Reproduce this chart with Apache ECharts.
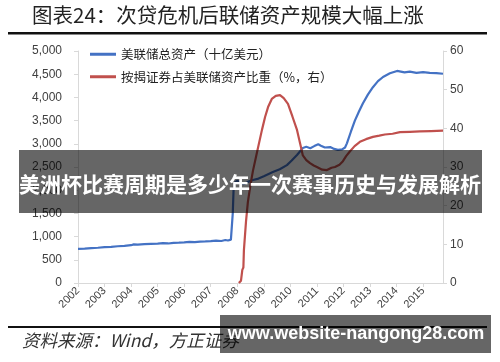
<!DOCTYPE html>
<html><head><meta charset="utf-8">
<script src="https://cdn.jsdelivr.net/npm/echarts@6/dist/echarts.min.js"></script>
<style>html,body{margin:0;padding:0;background:#fff}#c{width:500px;height:362px}</style>
</head><body><div id="c"></div>
<script>
const titleText = '图表24：次贷危机后联储资产规模大幅上涨';
const sourceText = '资料来源：Wind，方正证券';
const bannerText = '美洲杯比赛周期是多少年一次赛事历史与发展解析';
const watermarkText = 'www.website-nangong28.com';
const seriesNames = ['美联储总资产（十亿美元）', '按揭证券占美联储资产比重（%，右）'];
const yearLabels = ['2002','2003','2004','2005','2006','2007','2008','2009','2010','2011','2012','2013','2014','2015'];
const leftTicks = [0,500,1000,1500,2000,2500,3000,3500,4000,4500,5000];
const rightTicks = [0,10,20,30,40,50,60];
// [year position, value]
const fedAssets = [
 [2002.00,735],[2002.25,742],[2002.5,752],[2002.75,760],[2003.0,772],[2003.25,780],[2003.5,792],[2003.75,800],
 [2004.0,815],[2004.1,832],[2004.25,825],[2004.5,836],[2004.75,845],[2005.0,850],[2005.2,860],[2005.4,852],
 [2005.6,866],[2005.8,870],[2006.0,876],[2006.2,886],[2006.4,880],[2006.6,891],[2006.8,895],[2007.0,902],
 [2007.2,912],[2007.4,905],[2007.55,926],[2007.65,915],[2007.76,935],[2007.8,960],[2007.83,1500],[2007.86,2000],
 [2007.9,2160],[2008.0,2210],[2008.1,2160],[2008.25,2130],[2008.4,2180],[2008.59,2220],[2008.8,2250],[2009.0,2300],
 [2009.34,2390],[2009.6,2450],[2009.87,2540],[2010.05,2640],[2010.25,2760],[2010.47,2910],[2010.6,2935],[2010.75,2905],
 [2010.9,2950],[2011.05,2990],[2011.15,2960],[2011.3,2920],[2011.5,2930],[2011.65,2890],[2011.79,2870],[2011.95,2880],
 [2012.06,2920],[2012.13,3010],[2012.28,3260],[2012.43,3500],[2012.58,3690],[2012.73,3870],[2012.92,4060],[2013.11,4220],
 [2013.3,4350],[2013.49,4440],[2013.75,4520],[2014.02,4570],[2014.3,4540],[2014.5,4555],[2014.75,4530],[2015.0,4545],
 [2015.25,4530],[2015.5,4525],[2015.75,4510]
];
const mbsShare = [
 [2008.06,0],[2008.14,0.6],[2008.19,3.4],[2008.23,4],[2008.25,8.5],[2008.29,9],[2008.33,16],[2008.4,21],
 [2008.5,25.5],[2008.59,29],[2008.75,34],[2008.93,39.6],[2009.05,43],[2009.16,45.5],[2009.3,47.6],[2009.45,48.4],
 [2009.61,48.6],[2009.75,47.8],[2009.91,46.3],[2010.08,43],[2010.25,39.6],[2010.37,36],[2010.47,33],[2010.6,31.8],
 [2010.74,31],[2010.88,30.4],[2011.0,30],[2011.2,29.3],[2011.38,29.2],[2011.55,29.8],[2011.68,30],[2011.85,30.6],
 [2011.98,31.5],[2012.1,32.8],[2012.24,34],[2012.42,35.4],[2012.62,36.5],[2012.85,37.2],[2013.11,37.8],[2013.35,38.1],
 [2013.56,38.4],[2013.85,38.6],[2014.13,39],[2014.5,39.1],[2014.88,39.2],[2015.3,39.3],[2015.75,39.4]
];

const chart = echarts.init(document.getElementById('c'), null, {renderer:'canvas'});
const axisGray = '#d9d9d9';
const labelGray = '#404040';
const cjk = '"Noto Sans CJK SC", sans-serif';
chart.setOption({
  animation:false,
  backgroundColor:'#fff',
  grid:{left:78,right:57,top:51,bottom:79,containLabel:false},
  legend:{
    orient:'vertical', left:90, top:48, padding:0, itemGap:10, itemWidth:26, itemHeight:3,
    icon:'rect',
    textStyle:{fontFamily:cjk,fontSize:12.5,color:'#222'},
    data:seriesNames
  },
  xAxis:{
    type:'value', min:2002, max:2015.75, interval:1,
    splitLine:{show:false},
    axisLine:{lineStyle:{color:axisGray,width:1}},
    axisTick:{show:true,length:4,lineStyle:{color:axisGray}},
    axisLabel:{rotate:45, fontSize:11, color:labelGray, margin:6, fontFamily:'Arial, "Liberation Sans", sans-serif',
      showMaxLabel:false,
      formatter:function(v){const i=Math.round(v-2002);return (Math.abs(v-2002-i)<1e-6 && yearLabels[i])?yearLabels[i]:'';}}
  },
  yAxis:[{
    type:'value', min:leftTicks[0], max:leftTicks[leftTicks.length-1], interval:500,
    splitLine:{show:false},
    axisLine:{show:true,lineStyle:{color:axisGray}},
    axisTick:{show:true,length:4,lineStyle:{color:axisGray}},
    axisLabel:{fontSize:12,color:labelGray,margin:16,fontFamily:'Arial, "Liberation Sans", sans-serif',
      formatter:function(v){return v.toLocaleString('en-US');}}
  },{
    type:'value', min:rightTicks[0], max:rightTicks[rightTicks.length-1], interval:10, position:'right',
    splitLine:{show:false},
    axisLine:{show:true,lineStyle:{color:axisGray}},
    axisTick:{show:true,length:4,lineStyle:{color:axisGray}},
    axisLabel:{fontSize:12,color:labelGray,margin:7,fontFamily:'Arial, "Liberation Sans", sans-serif'}
  }],
  series:[{
    name:seriesNames[0], type:'line', yAxisIndex:0, data:fedAssets, showSymbol:false, symbol:'none',
    lineStyle:{color:'#4472c4',width:2.2}, itemStyle:{color:'#4472c4'}
  },{
    name:seriesNames[1], type:'line', yAxisIndex:1, data:mbsShare, showSymbol:false, symbol:'none',
    lineStyle:{color:'#c0504d',width:2.2}, itemStyle:{color:'#c0504d'}
  }],
  graphic:[
    {type:'text', left:32, top:5, z:100, style:{text:titleText, font:'20.5px '+cjk, fill:'#222'}},
    {type:'rect', shape:{x:8,y:32,width:479,height:2.5}, z:100, style:{fill:'#111'}},
    {type:'rect', shape:{x:8,y:326,width:479,height:2}, z:100, style:{fill:'#111'}},
    {type:'text', left:22, top:332, z:100, style:{text:sourceText, font:'italic 17.5px '+cjk, fill:'#333'}},
    {type:'rect', shape:{x:19,y:150,width:463,height:63}, z:110, style:{fill:'rgba(0,0,0,0.6)'}},
    {type:'text', x:250, y:184, z:111, style:{text:bannerText, font:'bold 21px '+cjk, fill:'#fff', align:'center', verticalAlign:'middle'}},
    {type:'rect', shape:{x:220,y:315,width:271,height:38}, z:110, style:{fill:'rgba(0,0,0,0.6)'}},
    {type:'text', x:356, y:334, z:111, style:{text:watermarkText, font:'bold 18px "Liberation Sans", Arial, sans-serif', fill:'#fff', align:'center', verticalAlign:'middle'}}
  ]
});
</script></body></html>
